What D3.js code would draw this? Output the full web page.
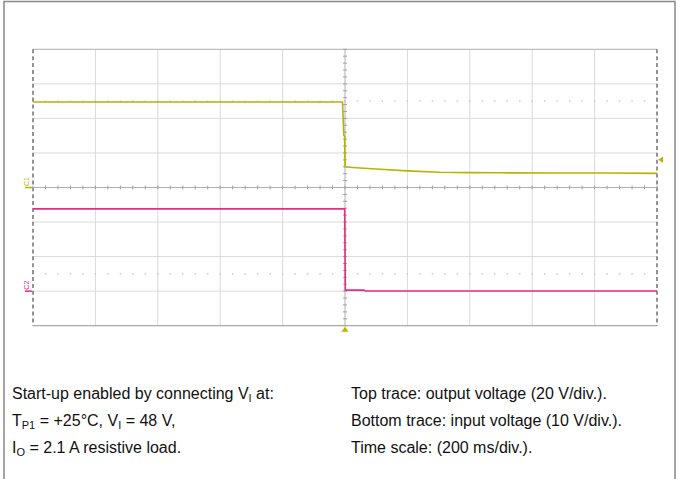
<!DOCTYPE html>
<html><head><meta charset="utf-8">
<script src="https://cdn.jsdelivr.net/npm/d3@7"></script>
<style>body{margin:0;background:#fff}svg{display:block}text{font-family:"Liberation Sans",Arial,sans-serif}</style>
</head><body><svg id="c" width="680" height="479"></svg>
<script>
// Time in ms (200 ms/div, 10 divisions), values in volts
const timeDomain = [-1000, 1000];
const ch1Scale = 20;   // V/div (top trace, output voltage)
const ch1Offset = 0;   // divisions
const ch2Scale = 10;   // V/div (bottom trace, input voltage)
const ch2Offset = -3;  // divisions
const ch1Time = [-1000, -8, -4, -1, 0, 6, 48, 112, 199, 304, 400, 497, 689, 850, 1000];
const ch1Volt = [49.5, 49.5, 30.5, 29.5, 12, 11.9, 11.3, 10.6, 9.6, 8.8, 8.6, 8.5, 8.4, 8.4, 8.2];
const ch2Time = [-1000, -1, 1, 60, 66, 1000];
const ch2Volt = [23.8, 23.8, 0.3, 0.3, 0.05, 0.05];
const dottedLevels = [2.5, -2.5]; // divisions
const leftLines = [
  [["Start-up enabled by connecting V",0],["I",1],[" at:",0]],
  [["T",0],["P1",1],[" = +25°C, V",0],["I",1],[" = 48 V,",0]],
  [["I",0],["O",1],[" = 2.1 A resistive load.",0]]
];
const rightLines = ["Top trace: output voltage (20 V/div.).","Bottom trace: input voltage (10 V/div.).","Time scale: (200 ms/div.)."];

const svg = d3.select("#c");
const L=33, R=657, T=49.3, B=325.7;
const x = d3.scaleLinear().domain(timeDomain).range([L,R]);
const y = d3.scaleLinear().domain([-4,4]).range([B,T]);
const xd = d3.scaleLinear().domain([-5,5]).range([L,R]);

// frame
svg.append("path").attr("d",`M4,479V1.5H675V479`).attr("fill","none").attr("stroke","#888").attr("stroke-width",1.5);

const g = svg.append("g");
// grid
for(let i=-4;i<=4;i++){ if(i===0) continue;
  g.append("line").attr("x1",xd(i)).attr("x2",xd(i)).attr("y1",T).attr("y2",B).attr("stroke","#dadada").attr("stroke-width",1);
}
for(let j=-3;j<=3;j++){ if(j===0) continue;
  g.append("line").attr("x1",L).attr("x2",R).attr("y1",y(j)).attr("y2",y(j)).attr("stroke","#dadada").attr("stroke-width",1);
}
// dotted levels
dottedLevels.forEach(d=>{
  for(let k=-25;k<=25;k++){ g.append("rect").attr("x",xd(k/5)-0.7).attr("y",y(d)-0.7).attr("width",1.4).attr("height",1.4).attr("fill","#c4c4c4"); }
});
// top/bottom border
g.append("line").attr("x1",L).attr("x2",R).attr("y1",T).attr("y2",T).attr("stroke","#bdbdbd").attr("stroke-width",1.2);
g.append("line").attr("x1",L).attr("x2",R).attr("y1",B).attr("y2",B).attr("stroke","#aaa").attr("stroke-width",1.2);
// left/right dashed border
[L,R].forEach(xx=>g.append("line").attr("x1",xx).attr("x2",xx).attr("y1",T).attr("y2",B).attr("stroke","#666").attr("stroke-width",1.4).attr("stroke-dasharray","4,2.9"));
// center axes
g.append("line").attr("x1",L).attr("x2",R).attr("y1",y(0)).attr("y2",y(0)).attr("stroke","#b0b0b0");
g.append("line").attr("x1",xd(0)).attr("x2",xd(0)).attr("y1",T).attr("y2",B).attr("stroke","#b0b0b0");
for(let k=-25;k<=25;k++){ g.append("line").attr("x1",xd(k/5)).attr("x2",xd(k/5)).attr("y1",y(0)-2).attr("y2",y(0)+2).attr("stroke","#a0a0a0"); }
for(let k=-20;k<=20;k++){ g.append("line").attr("x1",xd(0)-2).attr("x2",xd(0)+2).attr("y1",y(k/5)).attr("y2",y(k/5)).attr("stroke","#a0a0a0"); }

// traces
const yellow="#b8b300", pink="#ec2a80";
const line=d3.line().x(d=>x(d[0])).y(d=>d[1]);
const d1 = ch1Time.map((t,i)=>[t, y(ch1Volt[i]/ch1Scale+ch1Offset)]);
const d2 = ch2Time.map((t,i)=>[t, y(ch2Volt[i]/ch2Scale+ch2Offset)]);
g.append("path").attr("d",line(d2)).attr("fill","none").attr("stroke",pink).attr("stroke-width",1.6);
g.append("path").attr("d",line(d1)).attr("fill","none").attr("stroke",yellow).attr("stroke-width",1.6);

// channel markers
function marker(off,col,lab){
  const yy=y(off);
  g.append("line").attr("x1",25).attr("x2",32).attr("y1",yy).attr("y2",yy).attr("stroke",col).attr("stroke-width",1.5);
  g.append("text").attr("transform",`translate(29,${yy-1.5}) rotate(-90)`).attr("font-size",7).attr("fill",col).text(lab);
}
marker(ch1Offset,yellow,"C1");
marker(ch2Offset,pink,"C2");
// right trigger level marker
const trg=y(0.8);
g.append("path").attr("d",`M${R+1},${trg}L${R+6},${trg-3}L${R+6},${trg+3}Z`).attr("fill",yellow);
// bottom trigger time marker
g.append("path").attr("d",`M${x(0)},${B+1}L${x(0)-3.5},${B+6}L${x(0)+3.5},${B+6}Z`).attr("fill",yellow);

// text
const base=[399,426,453];
leftLines.forEach((parts,i)=>{
  const t=svg.append("text").attr("x",12).attr("y",base[i]).attr("font-size",16).attr("fill","#111");
  let sub=false;
  parts.forEach(p=>{
    const ts=t.append("tspan").text(p[0]);
    if(p[1]){ ts.attr("font-size",11).attr("dy",sub?0:3); sub=true; }
    else if(sub){ ts.attr("dy",-3); sub=false; }
  });
});
rightLines.forEach((s,i)=>svg.append("text").attr("x",351).attr("y",base[i]).attr("font-size",16).attr("fill","#111").text(s));
</script></body></html>
